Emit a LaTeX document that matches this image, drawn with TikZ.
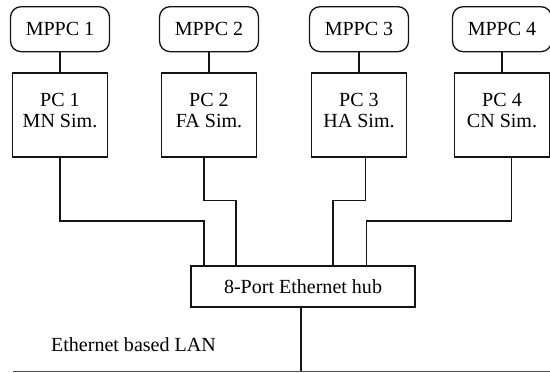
\documentclass[tikz,border=0pt]{standalone}
\usepackage{fontspec}
\setmainfont{Liberation Serif}
\usetikzlibrary{positioning}
\definecolor{figline}{RGB}{20,20,20}
\tikzset{
  wire/.style  ={draw=figline, line width=0.75pt},
  lanline/.style ={draw=figline!75, line width=0.75pt},
  lab/.style   ={font=\fontsize{11.4}{11.8}\selectfont, inner sep=1pt},
  mpbox/.style ={wire, lab, rounded corners=6pt, minimum width=1.98cm, minimum height=0.9cm},
  pcbox/.style ={wire, lab, align=center, minimum width=1.9cm, minimum height=1.68cm,
                 execute at end node={\rule[-0.18cm]{0pt}{0.18cm}}},
  hubbox/.style={wire, lab, minimum width=4.48cm, minimum height=0.82cm},
}
\begin{document}
\begin{tikzpicture}[scale=1]
  \useasboundingbox (0,0) rectangle (11,7.46);
  % simulator PCs
  \node[pcbox] (pc1) at (1.20,5.16) {PC 1\\MN Sim.};
  \node[pcbox] (pc2) at (4.18,5.16) {PC 2\\FA Sim.};
  \node[pcbox] (pc3) at (7.18,5.16) {PC 3\\HA Sim.};
  \node[pcbox] (pc4) at (10.04,5.16) {PC 4\\CN Sim.};
  % MPPC units
  \node[mpbox,above=0.4cm of pc1] (mp1) {MPPC 1};
  \node[mpbox,above=0.4cm of pc2] (mp2) {MPPC 2};
  \node[mpbox,above=0.4cm of pc3] (mp3) {MPPC 3};
  \node[mpbox,above=0.4cm of pc4] (mp4) {MPPC 4};
  \draw[wire] (mp1) -- (pc1);
  \draw[wire] (mp2) -- (pc2);
  \draw[wire] (mp3) -- (pc3);
  \draw[wire] (mp4) -- (pc4);
  % hub
  \node[hubbox] (hub) at (6.06,1.73) {8-Port Ethernet hub};
  \draw[wire] (pc1.south) -- ++(0,-1.27) -| ([xshift=-1.98cm]hub.north);
  \draw[wire] ([xshift=-0.1cm]pc2.south) -- ++(0,-0.86) -| ([xshift=-1.34cm]hub.north);
  \draw[wire] ([xshift=0.13cm]pc3.south) -- ++(0,-0.86) -| ([xshift=0.6cm]hub.north);
  \draw[wire] ([xshift=0.19cm]pc4.south) -- ++(0,-1.27) -| ([xshift=1.27cm]hub.north);
  % LAN
  \coordinate (lanl) at (0.26,0.03);
  \coordinate (lanr) at (11,0.03);
  \draw[lanline] (lanl) -- (lanr);
  \draw[wire] ([xshift=-0.04cm]hub.south) -- ([xshift=-0.04cm]hub.south |- lanl);
  \node[lab,anchor=base west] (lantxt) at (0.98,0.42) {Ethernet based LAN};
\end{tikzpicture}
\end{document}
